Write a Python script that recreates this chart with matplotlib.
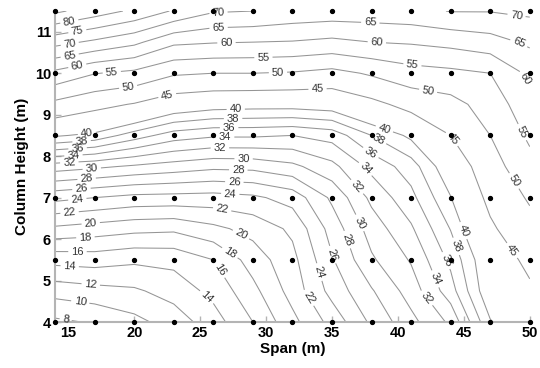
import matplotlib
matplotlib.use("Agg")
import matplotlib.pyplot as plt
import numpy as np

plt.rcParams["font.family"] = ["Liberation Sans", "DejaVu Sans"]

# grid columns (span, m) and rows (column height, m)
span_m = [14, 17, 20, 23, 26, 29, 32, 35, 38, 41, 44, 47, 50]
height_m = [4.0, 4.75, 5.5, 6.25, 7.0, 7.75, 8.5, 9.25, 10.0, 10.75, 11.5]

# surface values, one row per height (bottom to top)
row_400 = [7.6, 8.2, 9.4, 10.9, 13.1, 16.0, 19.4, 22.7, 26.4, 29.4, 32.4, 39.8, 43.0]
row_475 = [10.8, 11.3, 11.7, 12.8, 14.6, 17.4, 20.8, 24.7, 27.8, 30.9, 35.1, 41.8, 44.3]
row_550 = [14.7, 14.9, 14.4, 14.6, 16.0, 18.9, 21.4, 25.8, 29.7, 32.2, 36.5, 42.2, 46.1]
row_625 = [19.6, 19.1, 18.6, 18.4, 19.5, 20.7, 22.4, 26.8, 30.9, 33.7, 38.1, 44.3, 48.3]
row_700 = [24.6, 24.0, 23.4, 23.3, 23.2, 23.6, 24.8, 28.4, 32.5, 35.4, 39.9, 46.1, 50.6]
row_775 = [31.0, 30.4, 29.7, 29.1, 28.5, 28.6, 29.5, 31.4, 34.6, 37.0, 41.8, 47.9, 53.4]
row_850 = [40.3, 39.4, 37.0, 35.0, 34.3, 34.3, 34.0, 34.8, 38.0, 40.5, 45.0, 50.0, 55.9]
row_925 = [48.7, 46.4, 44.7, 42.1, 41.2, 41.0, 41.0, 41.4, 43.7, 46.6, 48.3, 52.2, 58.2]
row_1000 = [58.7, 55.2, 53.8, 50.6, 50.0, 50.0, 49.6, 48.5, 50.6, 53.0, 53.8, 55.0, 61.1]
row_1075 = [71.7, 69.0, 66.2, 61.0, 60.3, 60.0, 59.7, 58.8, 60.0, 60.5, 61.5, 63.0, 65.9]
row_1150 = [86.0, 82.5, 79.0, 74.5, 70.5, 70.0, 68.5, 68.0, 68.0, 68.5, 70.2, 70.2, 71.0]

# sample points drawn as dots
dot_span = [14, 17, 20, 23, 26, 29, 32, 35, 38, 41, 44, 47, 50]
dot_height = [4.0, 5.5, 7.0, 8.5, 10.0, 11.5]

levels = [8, 10, 12, 14, 16, 18, 20, 22, 24, 26, 28, 30, 32, 34, 36, 38, 40,
          45, 50, 55, 60, 65, 70, 75, 80, 85]

# where each level gets its inline labels
label_pos = {
    8: [(14.8, 4.05)],
    10: [(15.9, 4.46)],
    12: [(16.7, 4.89)],
    14: [(15.1, 5.30), (25.5, 4.60)],
    16: [(15.7, 5.74), (26.7, 5.30)],
    18: [(16.3, 6.05), (27.4, 5.74)],
    20: [(16.7, 6.39), (28.2, 6.17)],
    22: [(15.1, 6.63), (26.7, 6.77), (33.6, 4.65)],
    24: [(15.7, 6.92), (27.3, 7.16), (34.1, 5.21)],
    26: [(16.0, 7.21), (27.6, 7.42), (35.0, 5.62)],
    28: [(16.4, 7.42), (27.9, 7.71), (36.1, 5.98)],
    30: [(16.8, 7.62), (28.3, 7.98), (37.1, 6.39)],
    32: [(15.1, 7.74), (26.5, 8.20), (36.9, 7.26), (42.2, 4.58)],
    34: [(15.4, 7.98), (26.9, 8.44), (37.6, 7.71), (43.0, 5.06)],
    36: [(15.7, 8.22), (27.2, 8.70), (38.1, 8.15), (43.8, 5.50)],
    38: [(16.0, 8.41), (27.5, 8.92), (38.5, 8.41), (44.3, 5.81)],
    40: [(16.4, 8.58), (27.7, 9.16), (39.0, 8.68), (44.7, 6.17)],
    45: [(22.5, 9.47), (33.9, 9.67), (44.3, 8.46), (48.5, 5.69)],
    50: [(19.5, 9.76), (30.9, 10.05), (42.3, 9.59), (48.9, 7.42)],
    55: [(18.3, 10.03), (29.8, 10.39), (41.1, 10.20), (49.3, 8.56)],
    60: [(15.7, 10.15), (27.0, 10.73), (38.4, 10.73), (49.6, 9.86)],
    65: [(15.1, 10.44), (26.4, 11.09), (37.9, 11.16), (49.1, 10.68)],
    70: [(15.1, 10.73), (26.4, 11.40), (49.0, 11.40)],
    75: [(15.7, 10.99)],
    80: [(15.1, 11.21)],
}

Z = np.array([row_400, row_475, row_550, row_625, row_700, row_775, row_850,
              row_925, row_1000, row_1075, row_1150])
X, Y = np.meshgrid(span_m, height_m)

fig = plt.figure(figsize=(5.4, 3.68), dpi=100)
ax = fig.add_axes([0.102, 0.125, 0.879, 0.845])

# one contour set per level so each label snaps to its own line
for lev in levels:
    cs = ax.contour(X, Y, Z, levels=[lev], colors="#959595", linewidths=0.75)
    if lev in label_pos:
        txts = ax.clabel(cs, manual=label_pos[lev], inline=True,
                         inline_spacing=3, fontsize=8, fmt="%d",
                         colors="#333333")
        for t in txts:
            t.set_clip_on(False)

DX, DY = np.meshgrid(dot_span, dot_height)
ax.plot(DX.ravel(), DY.ravel(), "o", color="black", markersize=2.8,
        clip_on=False, zorder=5)

ax.set_xlim(14, 50)
ax.set_ylim(4, 11.5)
ax.set_xticks([15, 20, 25, 30, 35, 40, 45, 50])
ax.set_yticks([4, 5, 6, 7, 8, 9, 10, 11])
for side in ("top", "right"):
    ax.spines[side].set_visible(False)
for side in ("left", "bottom"):
    ax.spines[side].set_color("#b4b4b4")
    ax.spines[side].set_linewidth(1.5)
ax.tick_params(direction="in", length=4, width=1, color="#b4b4b4",
               labelsize=10.5, pad=3)
for lab in ax.get_xticklabels() + ax.get_yticklabels():
    lab.set_fontweight("bold")

ax.set_xlabel("Span (m)", fontsize=11, fontweight="bold", labelpad=1)
ax.set_ylabel("Column Height (m)", fontsize=11, fontweight="bold", labelpad=4)

fig.savefig("out.png", dpi=100)
